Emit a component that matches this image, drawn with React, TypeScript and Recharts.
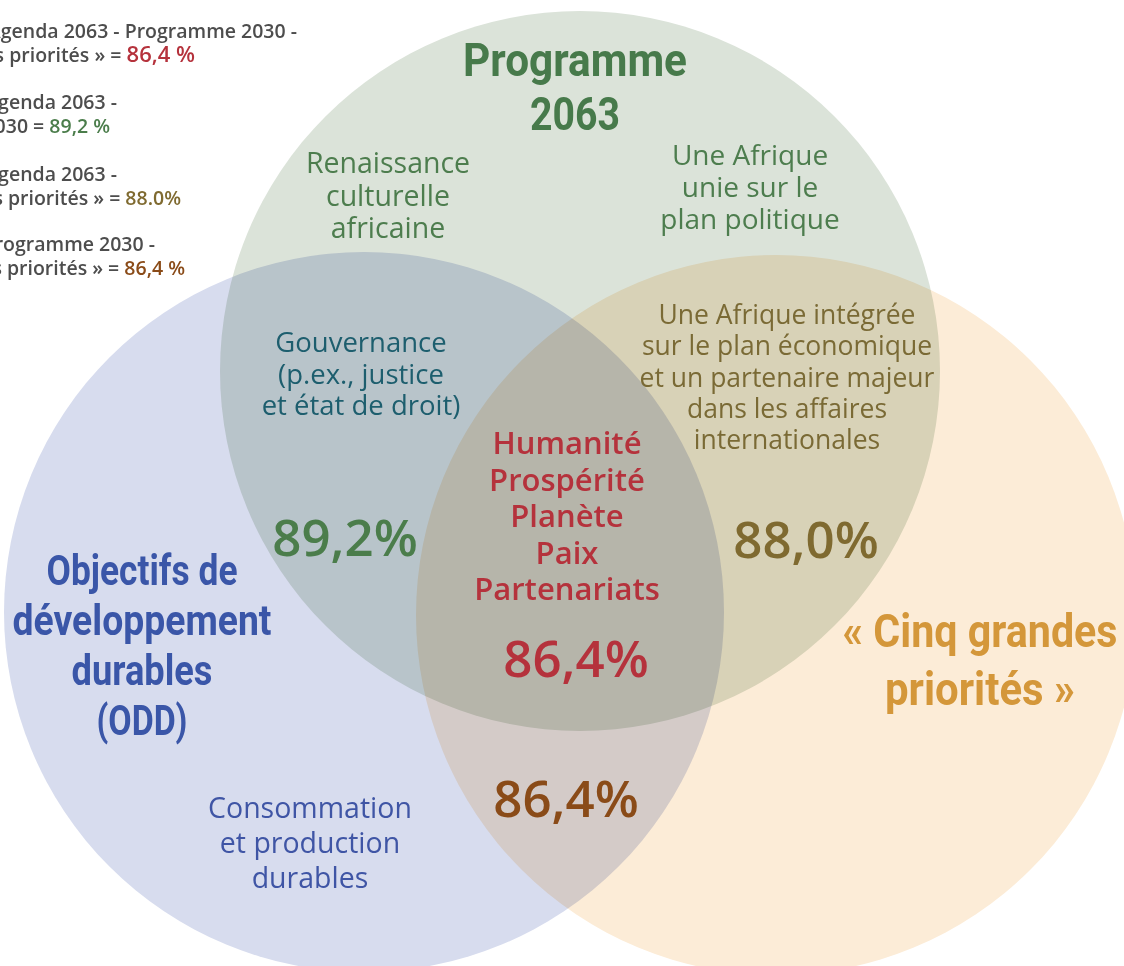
import { Scatter, ScatterChart, XAxis, YAxis } from "recharts";

const W = 1124;
const H = 966;

// les trois cadres stratégiques (centre et rayon dans le repère du schéma)
const SETS = ["Programme 2063", "ODD", "Cinq grandes priorités"];
const SET_X = [580, 364, 776];
const SET_Y = [371, 612, 615];
const SET_R = [360, 360, 360];
const SET_FILL = ["#dbe3d9", "#d7dcee", "#fcecd7"];

// taux de convergence entre cadres
const CONVERGENCE = ["86,4 %", "89,2 %", "88.0%", "86,4 %"];
const CONVERGENCE_PAIRS = [
  ["Agenda 2063 - Programme 2030 -", "« Cinq grandes priorités » = "],
  ["Agenda 2063 -", "Programme 2030 = "],
  ["Agenda 2063 -", "« Cinq grandes priorités » = "],
  ["Programme 2030 -", "« Cinq grandes priorités » = "],
];
const CONVERGENCE_COLORS = ["#b5323c", "#4b7d4b", "#7f6a30", "#8a4b18"];

const REGION_TEXT = [
  ["Programme", "2063"],
  ["Renaissance", "culturelle", "africaine"],
  ["Une Afrique", "unie sur le", "plan politique"],
  ["Gouvernance", "(p.ex., justice", "et état de droit)"],
  ["Une Afrique intégrée", "sur le plan économique", "et un partenaire majeur", "dans les affaires", "internationales"],
  ["Humanité", "Prospérité", "Planète", "Paix", "Partenariats"],
  ["89,2%"],
  ["88,0%"],
  ["86,4%"],
  ["86,4%"],
  ["Objectifs de", "développement", "durables", "(ODD)"],
  ["« Cinq grandes", "priorités »"],
  ["Consommation", "et production", "durables"],
];

const COND = "Roboto, 'DejaVu Sans', sans-serif";
const BODY = "'Open Sans', 'Noto Sans', sans-serif";

// placement and typography of each region label (fit = squeezed line widths for the condensed titles)
const LAYOUT = [
  { x: 575, y: 76, lh: 54, size: 47, weight: 700, font: COND, color: "#477a4b", fit: [224, 90] },
  { x: 388, y: 173, lh: 32.5, size: 28.5, weight: 400, font: BODY, color: "#4d7d4e" },
  { x: 750, y: 165, lh: 32, size: 28, weight: 400, font: BODY, color: "#4d7d4e" },
  { x: 361, y: 352, lh: 31.5, size: 27.5, weight: 400, font: BODY, color: "#1d5e6e" },
  { x: 787, y: 324, lh: 31.3, size: 26.5, weight: 400, font: BODY, color: "#7a6a35" },
  { x: 567, y: 454, lh: 36.5, size: 31, weight: 600, font: BODY, color: "#b5323c" },
  { x: 345, y: 556, lh: 0, size: 51, weight: 600, font: BODY, color: "#4b7d4b" },
  { x: 806, y: 558, lh: 0, size: 51, weight: 600, font: BODY, color: "#7f6a30" },
  { x: 576, y: 677, lh: 0, size: 51, weight: 600, font: BODY, color: "#b5323c" },
  { x: 566, y: 817, lh: 0, size: 51, weight: 600, font: BODY, color: "#8a4b18" },
  { x: 142, y: 585, lh: 50, size: 43, weight: 700, font: COND, color: "#3a56a8", fit: [191, 259, 141, 91] },
  { x: 980, y: 647, lh: 58, size: 47, weight: 700, font: COND, color: "#d4973a", fit: [275, 190] },
  { x: 310, y: 818, lh: 35, size: 28.5, weight: 400, font: BODY, color: "#3f55a5" },
];

const circles = SETS.map((name, i) => ({ name, x: SET_X[i], y: SET_Y[i], r: SET_R[i], fill: SET_FILL[i] }));
const labels = REGION_TEXT.map((lines, i) => ({ lines, ...LAYOUT[i] }));

const LEGEND_RIGHT = [
  [297, 195],
  [117, 110],
  [117, 181],
  [155, 185],
];
const LEGEND_TOP = [38, 109, 181, 251];

function CircleShape(props: any) {
  const { cx, cy, payload } = props;
  return (
    <circle
      cx={cx}
      cy={cy}
      r={payload.r}
      fill={payload.fill}
      style={{ mixBlendMode: "multiply" }}
    />
  );
}

function LabelShape(props: any) {
  const { cx, cy, payload } = props;
  return (
    <text
      x={cx}
      y={cy}
      textAnchor="middle"
      fill={payload.color}
      fontFamily={payload.font}
      fontWeight={payload.weight}
      fontSize={payload.size}
    >
      {payload.lines.map((l: string, i: number) => (
        <tspan
          key={i}
          x={cx}
          y={cy + i * payload.lh}
          textLength={payload.fit ? payload.fit[i] : undefined}
          lengthAdjust={payload.fit ? "spacingAndGlyphs" : undefined}
        >
          {l}
        </tspan>
      ))}
    </text>
  );
}

const legendRows = CONVERGENCE.map((value, i) => ({
  x: LEGEND_RIGHT[i][0],
  y: LEGEND_TOP[i],
  x2: LEGEND_RIGHT[i][1],
  first: CONVERGENCE_PAIRS[i][0],
  second: CONVERGENCE_PAIRS[i][1],
  value,
  color: CONVERGENCE_COLORS[i],
  big: i === 0,
}));

function LegendShape(props: any) {
  const { cx, cy, payload } = props;
  const dx = payload.x2 - payload.x;
  return (
    <g fontFamily={BODY} fontWeight={600} fontSize={19.5} fill="#4d4d4d">
      <text x={cx} y={cy} textAnchor="end">
        {payload.first}
      </text>
      <text x={cx + dx} y={cy + 24} textAnchor="end">
        {payload.second}
        <tspan fill={payload.color} fontSize={payload.big ? 22 : 19.5}>
          {payload.value}
        </tspan>
      </text>
    </g>
  );
}

export default function App() {
  return (
    <div style={{ position: "absolute", left: 0, top: 0, width: W, height: H, background: "#fff" }}>
      <ScatterChart width={W} height={H} margin={{ top: 0, right: 0, bottom: 0, left: 0 }}>
        <XAxis type="number" dataKey="x" domain={[0, W]} hide />
        <YAxis type="number" dataKey="y" domain={[0, H]} reversed hide />
        <Scatter data={circles} shape={CircleShape} isAnimationActive={false} />
        <Scatter data={legendRows} shape={LegendShape} isAnimationActive={false} />
        <Scatter data={labels} shape={LabelShape} isAnimationActive={false} />
      </ScatterChart>
    </div>
  );
}
